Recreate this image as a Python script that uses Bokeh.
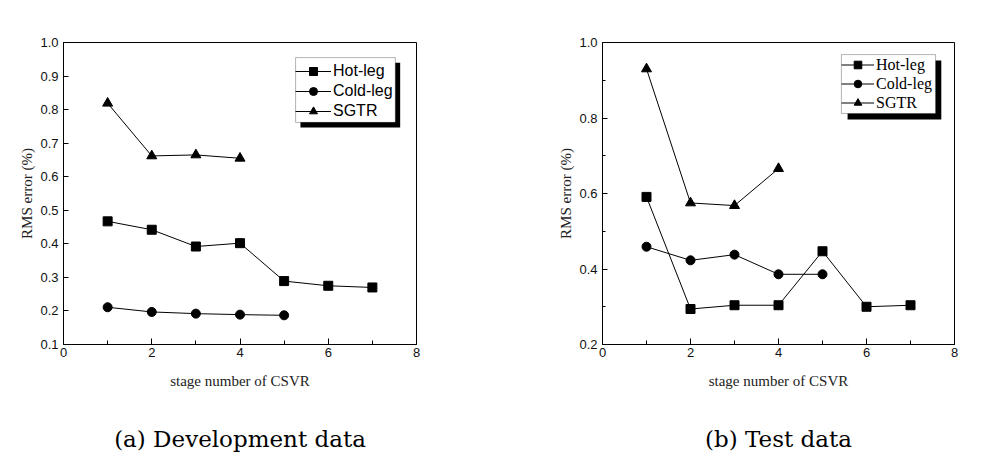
from bokeh.plotting import figure
from bokeh.models import (Range1d, Legend, LegendItem, BoxAnnotation, FixedTicker, LinearAxis,
                          PrintfTickFormatter)
from bokeh.layouts import row
from bokeh.embed import file_html
from bokeh.resources import INLINE

# ---- data ----
series_names = ["Hot-leg", "Cold-leg", "SGTR"]

dev_hot_x = [1, 2, 3, 4, 5, 6, 7]
dev_hot_y = [0.467, 0.442, 0.392, 0.402, 0.289, 0.275, 0.270]
dev_cold_x = [1, 2, 3, 4, 5]
dev_cold_y = [0.211, 0.197, 0.192, 0.189, 0.187]
dev_sgtr_x = [1, 2, 3, 4]
dev_sgtr_y = [0.819, 0.662, 0.665, 0.655]

test_hot_x = [1, 2, 3, 4, 5, 6, 7]
test_hot_y = [0.591, 0.294, 0.304, 0.304, 0.447, 0.300, 0.304]
test_cold_x = [1, 2, 3, 4, 5]
test_cold_y = [0.459, 0.423, 0.438, 0.386, 0.386]
test_sgtr_x = [1, 2, 3, 4]
test_sgtr_y = [0.930, 0.575, 0.568, 0.666]

x_ticks = [0, 2, 4, 6, 8]
dev_y_ticks = [0.1, 0.2, 0.3, 0.4, 0.5, 0.6, 0.7, 0.8, 0.9, 1.0]
test_y_ticks = [0.2, 0.4, 0.6, 0.8, 1.0]

captions = ["(a) Development data", "(b) Test data"]


def make_panel(hx, hy, cx, cy, sx, sy, yr, yticks, yminor, borders,
               legend_font, legend_box, shadow_box, legend_loc, glyph_w, row_h,
               caption):
    bl, br, bt, bb = borders
    p = figure(width=490, height=460, output_backend="svg", toolbar_location=None,
               x_range=Range1d(0, 8), y_range=Range1d(*yr),
               min_border_left=bl, min_border_right=br,
               min_border_top=bt, min_border_bottom=bb)
    p.xgrid.visible = False
    p.ygrid.visible = False
    p.outline_line_color = "black"
    p.outline_line_width = 1
    p.background_fill_color = "white"
    p.border_fill_color = "white"

    for ax in (p.xaxis[0], p.yaxis[0]):
        ax.axis_line_color = "black"
        ax.major_tick_line_color = "black"
        ax.minor_tick_line_color = "black"
        ax.major_tick_out = 0
        ax.minor_tick_out = 0
        ax.major_label_text_font = "Liberation Sans"
        ax.major_label_text_font_size = "13px"
        ax.major_label_text_color = "#111111"
        ax.axis_label_text_font = "Liberation Serif"
        ax.axis_label_text_font_size = "15px"
        ax.axis_label_text_font_style = "normal"
        ax.axis_label_text_color = "#222222"

    p.xaxis.ticker = FixedTicker(ticks=x_ticks, minor_ticks=[1, 3, 5, 7])
    p.xaxis.major_tick_in = 6
    p.xaxis.minor_tick_in = 4
    p.xaxis.major_label_standoff = 3
    p.xaxis.axis_label = "stage number of CSVR"
    p.xaxis.axis_label_standoff = 13

    p.yaxis.ticker = FixedTicker(ticks=yticks, minor_ticks=yminor)
    p.yaxis.major_tick_in = 5
    p.yaxis.minor_tick_in = 3
    p.yaxis.major_label_standoff = 5
    p.yaxis.axis_label = "RMS error (%)"
    p.yaxis.axis_label_standoff = 2
    p.yaxis.formatter = PrintfTickFormatter(format="%.1f")

    rh_l = p.line(hx, hy, line_color="black", line_width=1)
    rh_m = p.scatter(hx, hy, marker="square", size=9, fill_color="black", line_color="black")
    rc_l = p.line(cx, cy, line_color="black", line_width=1)
    rc_m = p.scatter(cx, cy, marker="circle", size=9, fill_color="black", line_color="black")
    rs_l = p.line(sx, sy, line_color="black", line_width=1)
    rs_m = p.scatter(sx, sy, marker="triangle", size=10, fill_color="black", line_color="black")

    shadow = BoxAnnotation(left=shadow_box[0], right=shadow_box[1],
                           top=shadow_box[2], bottom=shadow_box[3],
                           fill_color="black", fill_alpha=1.0, line_color=None)
    box = BoxAnnotation(left=legend_box[0], right=legend_box[1],
                        top=legend_box[2], bottom=legend_box[3],
                        fill_color="white", fill_alpha=1.0, line_color="black", line_width=1)
    p.add_layout(shadow)
    p.add_layout(box)

    legend = Legend(items=[LegendItem(label=series_names[0], renderers=[rh_l, rh_m]),
                           LegendItem(label=series_names[1], renderers=[rc_l, rc_m]),
                           LegendItem(label=series_names[2], renderers=[rs_l, rs_m])],
                    location=legend_loc, orientation="vertical",
                    padding=0, margin=0, spacing=0,
                    glyph_width=glyph_w, glyph_height=row_h, label_height=row_h,
                    label_standoff=2,
                    label_text_font=legend_font, label_text_font_size="16px",
                    label_text_color="black",
                    border_line_color=None, background_fill_alpha=0.0)
    p.add_layout(legend, "center")

    # caption below the chart: an extra bottom axis carrying only its label
    cap_axis = LinearAxis(ticker=FixedTicker(ticks=[]), axis_line_color=None,
                          major_tick_line_color=None, minor_tick_line_color=None,
                          major_tick_in=0, major_tick_out=0, minor_tick_in=0, minor_tick_out=0,
                          major_label_standoff=0, axis_label=caption,
                          axis_label_standoff=34,
                          axis_label_text_font="DejaVu Serif",
                          axis_label_text_font_size="23px",
                          axis_label_text_font_style="normal",
                          axis_label_text_color="black")
    p.add_layout(cap_axis, "below")
    return p


p1 = make_panel(dev_hot_x, dev_hot_y, dev_cold_x, dev_cold_y, dev_sgtr_x, dev_sgtr_y,
                (0.1, 1.0), dev_y_ticks, [], (63, 74, 42, 116),
                "Liberation Sans",
                (5.26, 7.52, 0.955, 0.762), (5.37, 7.63, 0.940, 0.747),
                (232, 223), 36, 20, captions[0])

p2 = make_panel(test_hot_x, test_hot_y, test_cold_x, test_cold_y, test_sgtr_x, test_sgtr_y,
                (0.2, 1.0), test_y_ticks, [0.3, 0.5, 0.7, 0.9], (112, 26, 42, 116),
                "Liberation Serif",
                (5.43, 7.57, 0.968, 0.812), (5.57, 7.70, 0.952, 0.796),
                (239, 232), 33, 19, captions[1])

layout = row(p1, p2)
open("out.html", "w").write(file_html(layout, INLINE))
